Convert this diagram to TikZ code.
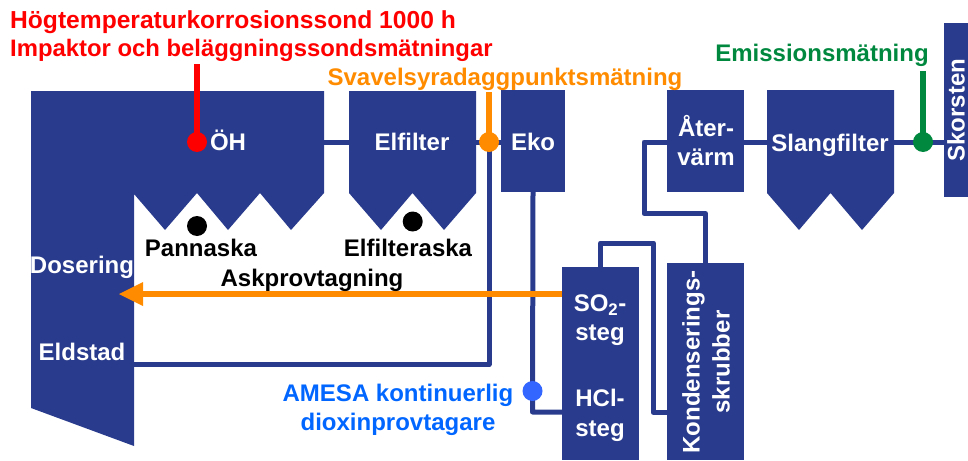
\documentclass[tikz,border=0pt]{standalone}
\usepackage{fontspec}
\setmainfont{Liberation Sans}[BoldFont={Liberation Sans Bold}]
\definecolor{navy}{HTML}{293B8C}
\definecolor{redm}{HTML}{FF0000}
\definecolor{orangem}{HTML}{FF8C00}
\definecolor{greenm}{HTML}{00883F}
\definecolor{bluem}{HTML}{0066FF}
\definecolor{bluedot}{HTML}{3366FF}
\tikzset{
 vessel/.style={fill=navy,draw=none},
 boxn/.style={fill=navy,draw=none,inner sep=0pt,outer sep=0pt},
 pipe/.style={draw=navy,line width=5pt,line join=round},
 probe/.style={line width=6pt},
 dot/.style={circle,inner sep=0pt,outer sep=0pt,minimum size=20pt},
 wlab/.style={text=white,font=\bfseries\fontsize{24}{24}\selectfont,inner sep=0pt,anchor=mid},
 klab/.style={text=black,font=\bfseries\fontsize{24}{24}\selectfont,inner sep=0pt,anchor=mid},
 clab/.style={font=\bfseries\fontsize{24}{24}\selectfont,inner sep=0pt,anchor=mid},
}
\begin{document}
\begin{tikzpicture}[x=1pt,y=-1pt]
\useasboundingbox (0,0) rectangle (968,460);
% vessels
\fill[vessel] (31,91) -- (324,91) -- (324,193) -- (291,230) -- (260,193) -- (228,230) -- (197,193) -- (165,230) -- (134,194) -- (134,446) -- (31,408) -- cycle;
\fill[vessel] (349,91) -- (476,91) -- (476,193) -- (444,230) -- (412.5,193) -- (381,230) -- (349,193) -- cycle;
\fill[vessel] (767,90) -- (894,90) -- (894,193) -- (862,230) -- (830.5,193) -- (799,230) -- (767,193) -- cycle;
% boxes
\node[boxn,minimum width=64pt,minimum height=102pt] (eko) at (533,141) {};
\node[boxn,minimum width=77pt,minimum height=102pt] (ater) at (705.5,141) {};
\node[boxn,minimum width=77pt,minimum height=193pt] (so2) at (600.5,363.5) {};
\node[boxn,minimum width=77pt,minimum height=197pt] (kond) at (705.5,361.5) {};
\node[boxn,minimum width=24pt,minimum height=174pt] (skor) at (956,110) {};
% anchors on the vessels
\coordinate (oh) at (197,142);
\coordinate (ohr) at (324,142);
\coordinate (efl) at (349,142);
\coordinate (efr) at (476,142);
\coordinate (slr) at (894,142);
\coordinate (sll) at (767,142);
\coordinate (hh) at (134,364.5);
\coordinate (jn) at (489,142);
\coordinate (em) at (923,142);
\coordinate (redtop) at (197,64);
\coordinate (oratop) at (489,92);
\coordinate (gretop) at (923,71);
\coordinate (arrtip) at (119,294);
\coordinate (arrbase) at (143,294);
\coordinate (am) at (532.5,391);
% pipes
\draw[pipe] (ohr) -- (efl);
\draw[pipe] (efr) -- (eko.west |- efr);
\draw[pipe] (jn) -- (489,364.5) -- (hh);
\draw[pipe] (eko.south) -- (532.5,412) -- (so2.west |- 0,412);
\draw[pipe] (600.5,267) -- (600.5,243) -- (653.4,243) -- (653.4,412.5) -- (kond.west |- 0,412.5);
\draw[pipe] (ater.west |- 0,142) -- (644,142) -- (644,213.5) -- (705.5,213.5) -- (kond.north);
\draw[pipe] (sll) -- (ater.east |- sll);
\draw[pipe] (slr) -- (skor.west |- slr);
% sampling
\fill[orangem] (arrtip) -- (143,282) -- (143,306) -- cycle;
\draw[orangem,line width=5.5pt] (so2.west |- arrbase) -- (arrbase);
\draw[redm,probe] (redtop) -- (oh);
\node[dot,fill=redm] (dred) at (oh) {};
\draw[orangem,probe] (oratop) -- (jn);
\node[dot,fill=orangem] (dora) at (jn) {};
\draw[greenm,probe] (gretop) -- (em);
\node[dot,fill=greenm] (dgre) at (em) {};
\node[dot,fill=bluedot] (dblu) at (am) {};
\node[dot,fill=black] (dk1) at (197,226) {};
\node[dot,fill=black] (dk2) at (412.7,221.5) {};
% labels
\node[clab,text=redm,anchor=west,font=\bfseries\fontsize{24.6}{24}\selectfont] (t1) at (10,22) {Högtemperaturkorrosionssond 1000 h};
\node[clab,text=redm,anchor=west,font=\bfseries\fontsize{23.85}{24}\selectfont] (t2) at (10,50) {Impaktor och beläggningssondsmätningar};
\node[clab,text=orangem] (t3) at (505,83) {Svavelsyradaggpunktsmätning};
\node[clab,text=greenm] (t4) at (822,59) {Emissionsmätning};
\node[clab,text=bluem] (t5) at (398,399) {AMESA kontinuerlig};
\node[clab,text=bluem] (t6) at (398,428) {dioxinprovtagare};
\node[wlab] (l1) at (228,148) {ÖH};
\node[wlab] (l2) at (412,148) {Elfilter};
\node[wlab] (l3) at (533,148) {Eko};
\node[wlab] (l4) at (706,134) {Åter-};
\node[wlab] (l5) at (706,163) {värm};
\node[wlab] (l6) at (830,149) {Slangfilter};
\node[wlab,rotate=90] (l7) at (962,110) {Skorsten};
\node[wlab] (l8) at (82,271) {Dosering};
\node[wlab] (l9) at (82,358) {Eldstad};
\node[klab] (k1) at (201,254) {Pannaska};
\node[klab] (k2) at (408,254) {Elfilteraska};
\node[klab] (k3) at (312,284) {Askprovtagning};
\node[wlab] (l10) at (600,309) {SO\textsubscript{2}-};
\node[wlab] (l11) at (600,338) {steg};
\node[wlab] (l12) at (600,404) {HCl-};
\node[wlab] (l13) at (600,434) {steg};
\node[wlab,rotate=90] (l14) at (697,362) {Kondenserings-};
\node[wlab,rotate=90] (l15) at (727,362) {skrubber};
\end{tikzpicture}
\end{document}
